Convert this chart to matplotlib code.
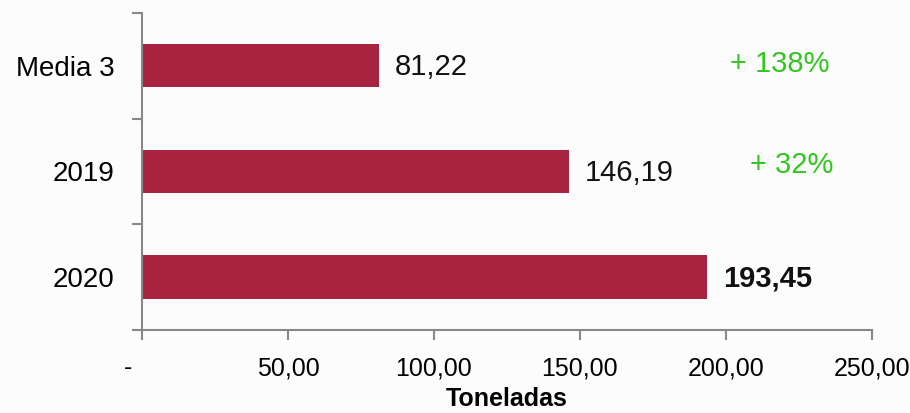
import matplotlib
matplotlib.use('Agg')
import matplotlib.pyplot as plt

# datos
categorias = ['2020', '2019', 'Media 3']
toneladas = [193.45, 146.19, 81.22]
etiquetas = ['193,45', '146,19', '81,22']
variaciones = ['+ 138%', '+ 32%']
var_pos = [2, 1]
xticks = [0, 50, 100, 150, 200, 250]
xtick_labels = ['-    ', '50,00', '100,00', '150,00', '200,00', '250,00']

plt.rcParams['font.family'] = ['Liberation Sans', 'DejaVu Sans']

fig = plt.figure(figsize=(9.10, 4.13), dpi=100)
fig.patch.set_facecolor('#fcfcfc')
ax = fig.add_axes([0.156, 0.201, 0.802, 0.768])
ax.set_facecolor('#fcfcfc')

ypos = list(range(len(categorias)))
ax.barh(ypos, toneladas, height=0.41, color='#a72340')

# etiquetas de valor al final de cada barra
for y, v, t in zip(ypos, toneladas, etiquetas):
    peso = 'semibold' if t == '193,45' else 'normal'
    ax.text(v + 5.5, y - 0.015, t, va='center', ha='left', fontsize=21, weight=peso, color='#111111')

# variaciones en verde
for y, t, dy, xr in zip(var_pos, variaciones, [0.02, 0.057], [235.6, 236.7]):
    ax.text(xr, y + dy, t, va='center', ha='right', fontsize=21, color='#33c61f')

ax.set_xlim(0, 250)
ax.set_ylim(-0.5, 2.5)
ax.set_xticks(xticks)
ax.set_xticklabels(xtick_labels, fontsize=18)
ax.set_yticks([-0.5, 0.5, 1.5, 2.5])
ax.set_yticklabels([])
ax.set_yticks(ypos, minor=True)
ax.set_yticklabels(categorias, minor=True, fontsize=20)
ax.tick_params(axis='y', which='minor', length=0, pad=20)
ax.tick_params(axis='y', which='major', length=7, color='#888888', width=1.5)
ax.tick_params(axis='x', length=7, color='#888888', width=1.5, pad=12)

for s in ['top', 'right']:
    ax.spines[s].set_visible(False)
for s in ['left', 'bottom']:
    ax.spines[s].set_color('#888888')
    ax.spines[s].set_linewidth(1.5)

ax.set_xlabel('Toneladas', fontsize=18, weight='bold', labelpad=5)

fig.savefig('out.png', dpi=100, facecolor=fig.get_facecolor())
